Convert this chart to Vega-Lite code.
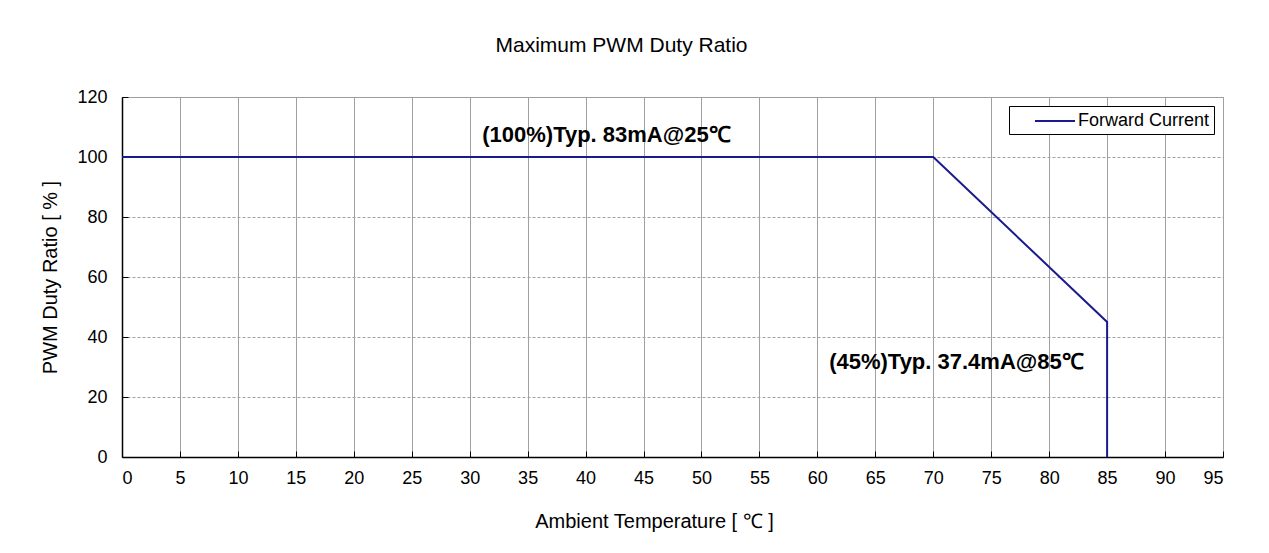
{
  "$schema": "https://vega.github.io/schema/vega-lite/v6.json",
  "autosize": {"type": "none"},
  "padding": {"left": 122, "top": 97, "right": 46, "bottom": 96},
  "width": 1101,
  "height": 360,
  "background": "white",
  "title": {
    "text": "Maximum PWM Duty Ratio",
    "font": "Liberation Sans",
    "fontSize": 21,
    "fontWeight": "normal",
    "color": "black",
    "anchor": "middle",
    "dx": -51,
    "offset": 32
  },
  "config": {
    "view": {"stroke": "#999999", "strokeWidth": 1},
    "axis": {
      "labelFont": "Liberation Sans",
      "labelFontSize": 18,
      "labelColor": "black",
      "titleFont": "Liberation Sans",
      "titleFontSize": 20,
      "titleFontWeight": "normal",
      "titleColor": "black",
      "domainColor": "black",
      "domainWidth": 1.5,
      "tickColor": "black",
      "gridColor": "#a0a0a0",
      "gridOpacity": 1,
      "gridWidth": 1
    }
  },
  "layer": [
    {
      "data": {
        "values": [
          {"i": 0, "t": 0, "d": 100, "series": "Forward Current"},
          {"i": 1, "t": 70, "d": 100, "series": "Forward Current"},
          {"i": 2, "t": 85, "d": 45, "series": "Forward Current"},
          {"i": 3, "t": 85, "d": 0, "series": "Forward Current"}
        ]
      },
      "mark": {"type": "line", "strokeWidth": 2},
      "encoding": {
        "x": {
          "field": "t",
          "type": "quantitative",
          "scale": {"domain": [0, 95], "nice": false},
          "axis": {
            "values": [0,5,10,15,20,25,30,35,40,45,50,55,60,65,70,75,80,85,90,95],
            "title": "Ambient Temperature [ ℃ ]",
            "titleX": 532,
            "titlePadding": 24,
            "tickSize": -6,
            "labelPadding": 18,
            "grid": true,
            "gridDash": []
          }
        },
        "y": {
          "field": "d",
          "type": "quantitative",
          "scale": {"domain": [0, 120], "nice": false},
          "axis": {
            "values": [0,20,40,60,80,100,120],
            "title": "PWM Duty Ratio [ % ]",
            "titlePadding": 16,
            "tickSize": -6,
            "labelPadding": 21,
            "grid": true,
            "gridDash": [3, 2]
          }
        },
        "stroke": {
          "field": "series",
          "type": "nominal",
          "scale": {"range": ["#1a1a8c"]},
          "legend": {
            "title": null,
            "orient": "top-right",
            "offset": 9,
            "symbolType": "M-2,0H2",
            "symbolSize": 400,
            "symbolStrokeWidth": 2,
            "symbolOffset": 31,
            "strokeColor": "black",
            "fillColor": "white",
            "padding": 4,
            "labelFont": "Liberation Sans",
            "labelFontSize": 18,
            "labelColor": "black",
            "labelOffset": 12
          }
        },
        "order": {"field": "i"}
      }
    },
    {
      "data": {
        "values": [
          {"label": "(100%)Typ. 83mA@25℃", "t": 41.8, "d": 107.3},
          {"label": "(45%)Typ. 37.4mA@85℃", "t": 72.0, "d": 31.7}
        ]
      },
      "mark": {
        "type": "text",
        "font": "Liberation Sans",
        "fontSize": 22,
        "fontWeight": "bold",
        "color": "black",
        "align": "center",
        "baseline": "middle"
      },
      "encoding": {
        "x": {"field": "t", "type": "quantitative"},
        "y": {"field": "d", "type": "quantitative"},
        "text": {"field": "label"}
      }
    }
  ]
}
